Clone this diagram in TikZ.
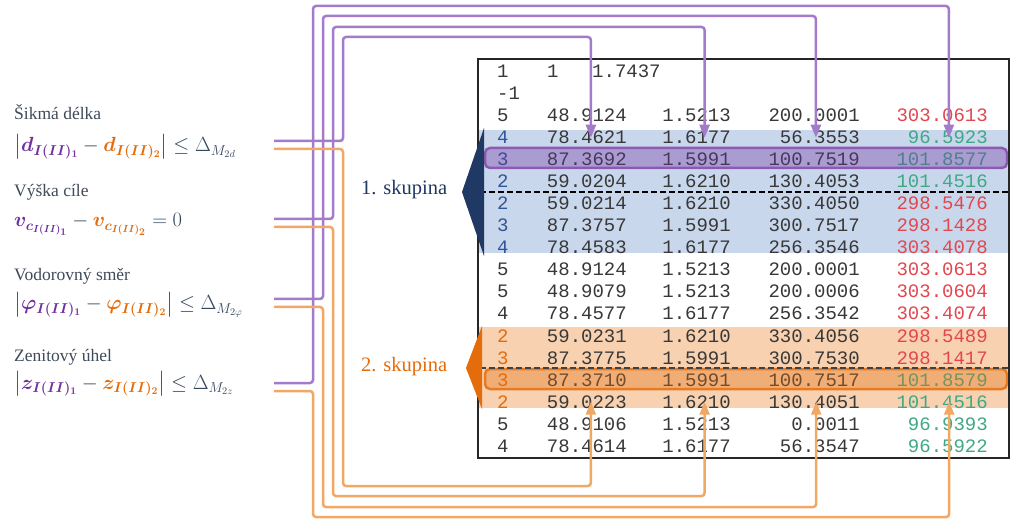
\documentclass[tikz,border=0pt]{standalone}
\usepackage{fix-cm}
\usepackage{amsmath}
\usepackage{fontspec}
\setmainfont{Liberation Serif}
\setmonofont{Liberation Mono}
\usetikzlibrary{arrows.meta}

\definecolor{fialova}{HTML}{7030A0}
\definecolor{oranzova}{HTML}{E46C0A}
\definecolor{fialdrat}{HTML}{A27CCB}
\definecolor{orandrat}{HTML}{F2A865}
\definecolor{tmmodra}{HTML}{1F3864}
\definecolor{sedomodra}{HTML}{34475F}
\definecolor{popis}{HTML}{3F4B5A}
\definecolor{pasmodra}{HTML}{C8D7EC}
\definecolor{pasoranz}{HTML}{F8D1B0}
\definecolor{cervena}{HTML}{E2474F}
\definecolor{zelena}{HTML}{3FA985}
\definecolor{cislo}{HTML}{383838}
\definecolor{cislomodre}{HTML}{2F5597}

\newcommand*{\prvni}[1]{\textcolor{fialova}{\boldsymbol{#1}}}
\newcommand*{\druhy}[1]{\textcolor{oranzova}{\boldsymbol{#1}}}

\begin{document}
\begin{tikzpicture}[x=1pt, y=-1pt,
  popisek/.style={anchor=base west, inner sep=0pt, text=popis, font=\fontsize{17.5}{21}\selectfont},
  rovnice/.style={anchor=base west, inner sep=0pt, text=sedomodra, font=\fontsize{20.5}{24}\selectfont},
  bunka/.style={inner sep=0pt, text=cislo, font=\ttfamily\fontsize{19}{22}\selectfont},
  vlevo/.style={bunka, anchor=base west},
  vpravo/.style={bunka, anchor=base east},
  skupina/.style={anchor=base west, inner sep=0pt, font=\fontsize{20.5}{24}\selectfont},
  fdrat/.style={draw=fialdrat, line width=2.5pt, rounded corners=3pt},
  odrat/.style={draw=orandrat, line width=2.5pt, rounded corners=3pt},
  sipka/.style={-{Triangle[length=13pt, width=10pt]}},
  zvyrazneni/.style={line width=2.5pt, rounded corners=5pt, fill opacity=0.35}]
\fill[white] (0,0) rectangle (1023,529);
\useasboundingbox (0,0) rectangle (1023,529);

% popisky a rovnice
\node[popisek] (lbld) at (14,120) {Šikmá délka};
\node[rovnice] (eqd) at (14,152) {$\bigl|\prvni{d_{I(II)_1}} - \druhy{d_{I(II)_2}}\bigr| \le \Delta_{M_{2d}}$};
\node[popisek] (lblv) at (14,197) {Výška cíle};
\node[rovnice] (eqv) at (14,227) {$\prvni{v_{c_{I(II)_1}}} - \druhy{v_{c_{I(II)_2}}} = 0$};
\node[popisek] (lblf) at (14,281) {Vodorovný směr};
\node[rovnice] (eqf) at (14,310) {$\bigl|\prvni{\varphi_{I(II)_1}} - \druhy{\varphi_{I(II)_2}}\bigr| \le \Delta_{M_{2\varphi}}$};
\node[popisek] (lblz) at (14,361) {Zenitový úhel};
\node[rovnice] (eqz) at (14,389) {$\bigl|\prvni{z_{I(II)_1}} - \druhy{z_{I(II)_2}}\bigr| \le \Delta_{M_{2z}}$};

% pasy skupin
\fill[pasmodra] (479,130) rectangle (1008,253);
\fill[pasoranz] (479,327) rectangle (1008,408);

% tabulka
\node[vlevo] (c1-1) at (497,78) {1};
\node[vlevo] (c1-2) at (547,78) {1};
\node[vlevo] (c1-3) at (592,78) {1.7437};
\node[vlevo] (c2-1) at (497,100) {-1};
\foreach \r/\a/\b/\c/\d/\e/\ka/\ke in {
  3/5/48.9124/1.5213/200.0001/303.0613/cislo/cervena,
  4/4/78.4621/1.6177/56.3553/96.5923/cislomodre/zelena,
  5/3/87.3692/1.5991/100.7519/101.8577/cislomodre/zelena,
  6/2/59.0204/1.6210/130.4053/101.4516/cislomodre/zelena,
  7/2/59.0214/1.6210/330.4050/298.5476/cislomodre/cervena,
  8/3/87.3757/1.5991/300.7517/298.1428/cislomodre/cervena,
  9/4/78.4583/1.6177/256.3546/303.4078/cislomodre/cervena,
  10/5/48.9124/1.5213/200.0001/303.0613/cislo/cervena,
  11/5/48.9079/1.5213/200.0006/303.0604/cislo/cervena,
  12/4/78.4577/1.6177/256.3542/303.4074/cislo/cervena,
  13/2/59.0231/1.6210/330.4056/298.5489/oranzova/cervena,
  14/3/87.3775/1.5991/300.7530/298.1417/oranzova/cervena,
  15/3/87.3710/1.5991/100.7517/101.8579/oranzova/zelena,
  16/2/59.0223/1.6210/130.4051/101.4516/oranzova/zelena,
  17/5/48.9106/1.5213/0.0011/96.9393/cislo/zelena,
  18/4/78.4614/1.6177/56.3547/96.5922/cislo/zelena} {
  \node[vlevo, text=\ka] (c\r-1) at (497,56+22*\r) {\a};
  \node[vpravo] (c\r-2) at (627,56+22*\r) {\b};
  \node[vpravo] (c\r-3) at (731,56+22*\r) {\c};
  \node[vpravo] (c\r-4) at (860,56+22*\r) {\d};
  \node[vpravo, text=\ke] (c\r-5) at (988,56+22*\r) {\e};
}

% zvyraznene radky a deleni
\draw[zvyrazneni, draw=fialova!80, fill=fialova] (485,148) rectangle (1007,168);
\draw[zvyrazneni, draw=oranzova!90, fill=oranzova] (485,369) rectangle (1007,389);
\draw[dashed, dash pattern=on 6pt off 3pt, line width=1.2pt] (480,192) -- (1008,192);
\draw[dashed, dash pattern=on 6pt off 3pt, line width=1.2pt, black!75] (480,368) -- (1008,368);
\draw[line width=1.5pt, black!85] (478,59) rectangle (1009,458);

% skupiny
\fill[tmmodra] (484,128) -- (462,192) -- (484,256) -- cycle;
\fill[oranzova] (482,326) -- (466,368) -- (482,409) -- cycle;
\node[skupina, text=tmmodra] (sk1) at (361,195) {1. skupina};
\node[skupina, text=oranzova] (sk2) at (361,371) {2. skupina};

% spoje
\coordinate (dF) at (274,141);
\coordinate (dO) at (274,149);
\coordinate (vF) at (274,219);
\coordinate (vO) at (274,227);
\coordinate (fF) at (274,299);
\coordinate (fO) at (274,307);
\coordinate (zF) at (274,383);
\coordinate (zO) at (274,391);
\draw[fdrat, sipka] (dF) -| (343,37) -| ([xshift=4pt]c4-2.center);
\draw[fdrat, sipka] (vF) -| (333,27) -| ([xshift=8pt]c4-3.center);
\draw[fdrat, sipka] (fF) -| (323,16) -| ([xshift=-4pt]c4-4.center);
\draw[fdrat, sipka] (zF) -| (313,6) -| ([xshift=1pt]c4-5.center);
\draw[odrat, sipka] (dO) -| (343,486) -| ([xshift=4pt]c16-2.center);
\draw[odrat, sipka] (vO) -| (333,496) -| ([xshift=8pt]c16-3.center);
\draw[odrat, sipka] (fO) -| (323,507) -| ([xshift=2pt]c16-4.center);
\draw[odrat, sipka] (zO) -| (313,517) -| ([xshift=7pt]c16-5.center);
\end{tikzpicture}
\end{document}
